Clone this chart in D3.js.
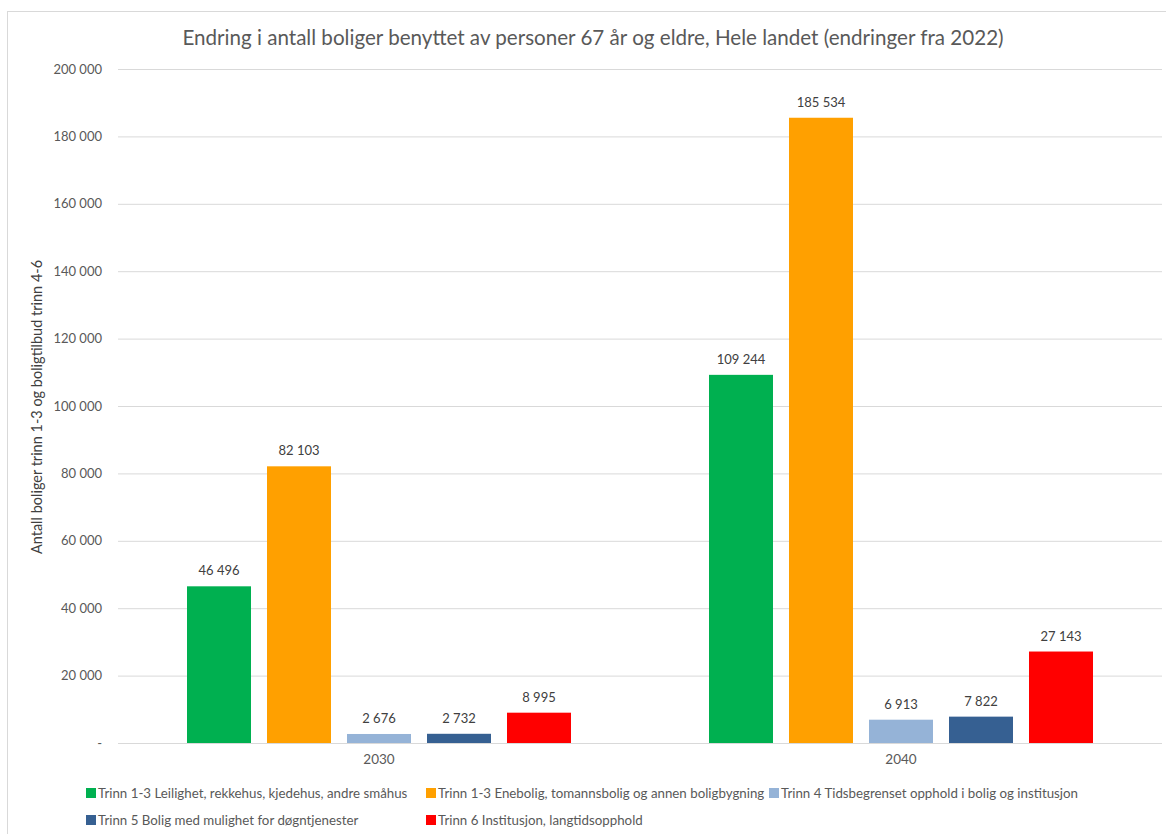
<!DOCTYPE html>
<html>
<head>
<meta charset="utf-8">
<script src="https://cdn.jsdelivr.net/npm/d3@7"></script>
<style>
  body { margin: 0; background: #fff; }
  svg text { font-family: Lato, "Open Sans", sans-serif; }
</style>
</head>
<body>
<svg id="chart" width="1166" height="834"></svg>
<script>
// Years on the x axis
const years = ["2030", "2040"];
// Series (housing/service levels)
const seriesNames = [
  "Trinn 1-3 Leilighet, rekkehus, kjedehus, andre småhus",
  "Trinn 1-3 Enebolig, tomannsbolig og annen boligbygning",
  "Trinn 4 Tidsbegrenset opphold i bolig og institusjon",
  "Trinn 5 Bolig med mulighet for døgntjenester",
  "Trinn 6 Institusjon, langtidsopphold"
];
const seriesColors = ["#00B050", "#FFA000", "#95B3D7", "#366092", "#FF0000"];
// Values per series, one entry per year
const values2030 = [46496, 82103, 2676, 2732, 8995];
const values2040 = [109244, 185534, 6913, 7822, 27143];
const yTicks = [0, 20000, 40000, 60000, 80000, 100000, 120000, 140000, 160000, 180000, 200000];

const title = "Endring i antall boliger benyttet av personer 67 år og eldre, Hele landet (endringer fra 2022)";
const yTitle = "Antall boliger trinn 1-3 og boligtilbud trinn 4-6";

const valuesByYear = { "2030": values2030, "2040": values2040 };

const svg = d3.select("#chart");
const plot = { left: 118, right: 1162, top: 69, bottom: 743 };

// Chart frame
svg.append("rect")
  .attr("x", 7.5).attr("y", 11.5)
  .attr("width", 1170).attr("height", 840)
  .attr("fill", "#fff").attr("stroke", "#D9D9D9").attr("stroke-width", 1);

const fmt = v => v === 0 ? "-" : d3.format(",")(v).replace(/,/g, " ");

const y = d3.scaleLinear().domain([0, 200000]).range([plot.bottom, plot.top]);
const x0 = d3.scaleBand().domain(years).range([plot.left, plot.right]).padding(0);
const x1 = d3.scaleBand().domain(d3.range(seriesNames.length))
  .range([69, x0.bandwidth() - 69]).paddingInner(0.2).paddingOuter(0);

// Gridlines
const grid = d3.axisLeft(y).tickValues(yTicks).tickSize(-(plot.right - plot.left)).tickFormat("");
svg.append("g").attr("transform", `translate(${plot.left},0)`).call(grid)
  .call(g => g.select(".domain").remove())
  .call(g => g.selectAll("line").attr("stroke", "#D9D9D9").attr("stroke-width", 1));

// Y tick labels
const yAxis = d3.axisLeft(y).tickValues(yTicks).tickSize(0).tickPadding(16).tickFormat(fmt);
svg.append("g").attr("transform", `translate(${plot.left},0)`).call(yAxis)
  .call(g => g.select(".domain").remove())
  .call(g => g.selectAll("text").attr("fill", "#595959").attr("font-size", 13)
    .style("font-family", "Lato, sans-serif"));

// X category labels
const xAxis = d3.axisBottom(x0).tickSize(0).tickPadding(11);
svg.append("g").attr("transform", `translate(0,${plot.bottom})`).call(xAxis)
  .call(g => g.select(".domain").remove())
  .call(g => g.selectAll("text").attr("fill", "#595959").attr("font-size", 13.5)
    .style("font-family", "Lato, sans-serif"));

// Bars and value labels
const groups = svg.append("g").selectAll("g").data(years).join("g")
  .attr("transform", d => `translate(${x0(d)},0)`);

groups.selectAll("rect")
  .data(yr => valuesByYear[yr].map((v, i) => ({ v, i })))
  .join("rect")
  .attr("x", d => x1(d.i))
  .attr("y", d => y(d.v))
  .attr("width", x1.bandwidth())
  .attr("height", d => y(0) - y(d.v))
  .attr("fill", d => seriesColors[d.i]);

groups.selectAll("text.lbl")
  .data(yr => valuesByYear[yr].map((v, i) => ({ v, i })))
  .join("text")
  .attr("class", "lbl")
  .attr("x", d => x1(d.i) + x1.bandwidth() / 2)
  .attr("y", d => y(d.v) - 11)
  .attr("text-anchor", "middle")
  .attr("fill", "#404040")
  .attr("font-size", 13)
  .text(d => fmt(d.v));

// Title
svg.append("text")
  .attr("x", 593).attr("y", 45)
  .attr("text-anchor", "middle")
  .attr("fill", "#595959")
  .attr("font-size", 20.6)
  .text(title);

// Y axis title
svg.append("text")
  .attr("transform", `translate(42,${(plot.top + plot.bottom) / 2 + 1}) rotate(-90)`)
  .attr("text-anchor", "middle")
  .attr("fill", "#404040")
  .attr("font-size", 14.5)
  .text(yTitle);

// Legend
const legendPos = [
  { x: 86, y: 793 }, { x: 426, y: 793 }, { x: 769, y: 793 },
  { x: 86, y: 820 }, { x: 426, y: 820 }
];
const legend = svg.append("g").selectAll("g").data(seriesNames).join("g")
  .attr("transform", (d, i) => `translate(${legendPos[i].x},${legendPos[i].y})`);
legend.append("rect").attr("x", 0).attr("y", -5).attr("width", 10).attr("height", 10)
  .attr("fill", (d, i) => seriesColors[i]);
legend.append("text").attr("x", 12).attr("y", 4.5)
  .attr("fill", "#595959").attr("font-size", 13.3)
  .text(d => d);
</script>
</body>
</html>
